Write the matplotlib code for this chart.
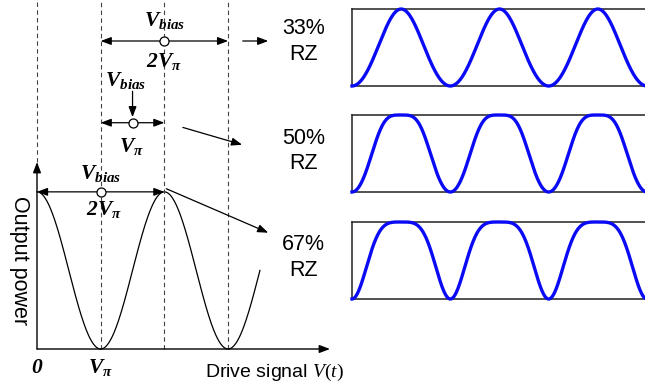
import numpy as np
import matplotlib
matplotlib.use('Agg')
import matplotlib.pyplot as plt

plt.rcParams['font.family'] = ['Liberation Sans', 'DejaVu Sans']
plt.rcParams['mathtext.fontset'] = 'custom'
plt.rcParams['mathtext.rm'] = 'Liberation Serif'
plt.rcParams['mathtext.it'] = 'Liberation Serif:italic'
plt.rcParams['mathtext.bf'] = 'Liberation Serif:bold'
plt.rcParams['mathtext.bfit'] = 'Liberation Serif:bold:italic'

# Pulse formats shown on the right
formats = ['33%\nRZ', '50%\nRZ', '67%\nRZ']

# Drive of each pulse train (voltages in units of V_pi); the resulting
# optical power is normalised to its own min/max for display.
pulse_bias = [2.0, 1.7, 1.0]
pulse_amplitude = [0.42, 0.3, 1.0]     # half of the peak-to-peak swing
bits_per_cycle = [2, 1, 2]             # drive period in bit slots
start_phase = [0.0, 0.0, np.pi / 2]
n_bits = 3

# Transfer-curve sweep and axis labels
v_sweep_end = 3.5
guide_positions = [0, 1, 2, 3]
tick_positions = [0, 1]
tick_labels = [r'$\mathbfit{0}$', r'$\mathbfit{V}_{\mathbfit{\pi}}$']

# Bias/swing markers on the left panel: (left, right, bias, level)
spans = [(1, 3, 2.0, 1.96), (1, 2, 1.5, 1.44), (0, 2, 1.0, 1.0)]
span_top_labels = [r'$\mathbfit{V}_{\mathbfit{bias}}$'] * 3
span_bottom_labels = [r'$\mathbfit{2V}_{\mathbfit{\pi}}$',
                      r'$\mathbfit{V}_{\mathbfit{\pi}}$',
                      r'$\mathbfit{2V}_{\mathbfit{\pi}}$']


def transfer(v):
    """Normalised MZM output power versus drive voltage (in V_pi)."""
    return np.cos(np.pi * v / 2) ** 2


W, H = 645, 390
fig = plt.figure(figsize=(W / 100, H / 100), dpi=100)

# ---------- left panel: transfer curve ----------
ax = fig.add_axes([37 / W, 41 / H, 293 / W, 187 / H])
ax.set_xlim(0, 4.6)
ax.set_ylim(0, 1.19)
ax.axis('off')

v = np.linspace(0, v_sweep_end, 400)
ax.plot(v, transfer(v), color='black', lw=0.9, clip_on=False)

axis_arrow = dict(arrowstyle='-|>,head_length=0.45,head_width=0.17',
                  color='black', lw=1.0, shrinkA=0, shrinkB=0,
                  mutation_scale=14)
ax.annotate('', xy=(4.6, 0), xytext=(0, 0), arrowprops=axis_arrow,
            annotation_clip=False)
ax.annotate('', xy=(0, 1.19), xytext=(0, 0), arrowprops=axis_arrow,
            annotation_clip=False)

top = 2.23
dash = dict(color='#444444', lw=0.8, ls=(0, (4, 3)), clip_on=False)
for gx in guide_positions:
    y0 = 1.19 if gx == 0 else 0
    ax.plot([gx, gx], [y0, top], **dash)

for x, lab in zip(tick_positions, tick_labels):
    ax.text(x, -0.12, lab, fontsize=15.5, ha='center', va='center')

ax.text(2.64, -0.146, 'Drive signal $V(t)$', fontsize=14,
        ha='left', va='center')
ax.text(-0.27, 0.56, 'Output power', fontsize=15.5, rotation=270,
        ha='center', va='center')

dbl = dict(arrowstyle='<|-|>,head_length=0.45,head_width=0.17',
           color='black', lw=0.9, shrinkA=0, shrinkB=0, mutation_scale=14)
single = dict(arrowstyle='-|>,head_length=0.45,head_width=0.17',
              color='black', lw=0.9, shrinkA=0, shrinkB=0, mutation_scale=14)

top_label_pos = [(2.0, 2.09), (1.39, 1.71), (1.0, 1.12)]
bottom_label_pos = [(2.0, 1.83), (1.49, 1.29), (1.05, 0.885)]
for (x0, x1, xb, lvl), tl, bl, tp, bp in zip(spans, span_top_labels,
                                             span_bottom_labels,
                                             top_label_pos, bottom_label_pos):
    ax.annotate('', xy=(x1, lvl), xytext=(x0, lvl), arrowprops=dbl,
                annotation_clip=False)
    ax.plot([xb], [lvl], 'o', ms=6.5, mfc='white', mec='black', mew=0.9,
            clip_on=False, zorder=5)
    ax.text(tp[0], tp[1], tl, fontsize=15.5, ha='center', va='center')
    ax.text(bp[0], bp[1], bl, fontsize=15.5, ha='center', va='center')

# bias pointer of the middle setting
ax.annotate('', xy=(1.5, 1.475), xytext=(1.5, 1.64), arrowprops=single,
            annotation_clip=False)

# pointers to the pulse trains
pointer_paths = [((3.23, 1.96), (3.63, 1.96)),
                 ((2.29, 1.41), (3.22, 1.30)),
                 ((2.03, 1.02), (3.63, 0.74))]
label_pos = [(4.18, 1.955), (4.18, 1.26), (4.18, 0.58)]
for (p0, p1), lp, name in zip(pointer_paths, label_pos, formats):
    ax.annotate('', xy=p1, xytext=p0, arrowprops=single,
                annotation_clip=False)
    ax.text(lp[0], lp[1], name, fontsize=15.5, ha='center', va='center',
            linespacing=1.3)

# ---------- right panels: output pulse trains ----------
box_tops = [9, 115, 222]
box_h = 77
t = np.linspace(0, n_bits, 1200)
for top_px, b, a, cyc, ph in zip(box_tops, pulse_bias, pulse_amplitude,
                                 bits_per_cycle, start_phase):
    axr = fig.add_axes([352 / W, (H - top_px - box_h) / H,
                        295 / W, box_h / H])
    axr.set_xlim(0, n_bits)
    axr.set_ylim(0, 1)
    axr.set_xticks([])
    axr.set_yticks([])
    for sp in axr.spines.values():
        sp.set_linewidth(1.1)
        sp.set_color('#222222')
    drive = b - a * np.cos(2 * np.pi * t / cyc + ph)
    power = transfer(drive)
    power = (power - power.min()) / (power.max() - power.min())
    axr.plot(t, power, color='#0a0af5', lw=2.4, clip_on=False, zorder=5)

fig.savefig('out.png', dpi=100)
